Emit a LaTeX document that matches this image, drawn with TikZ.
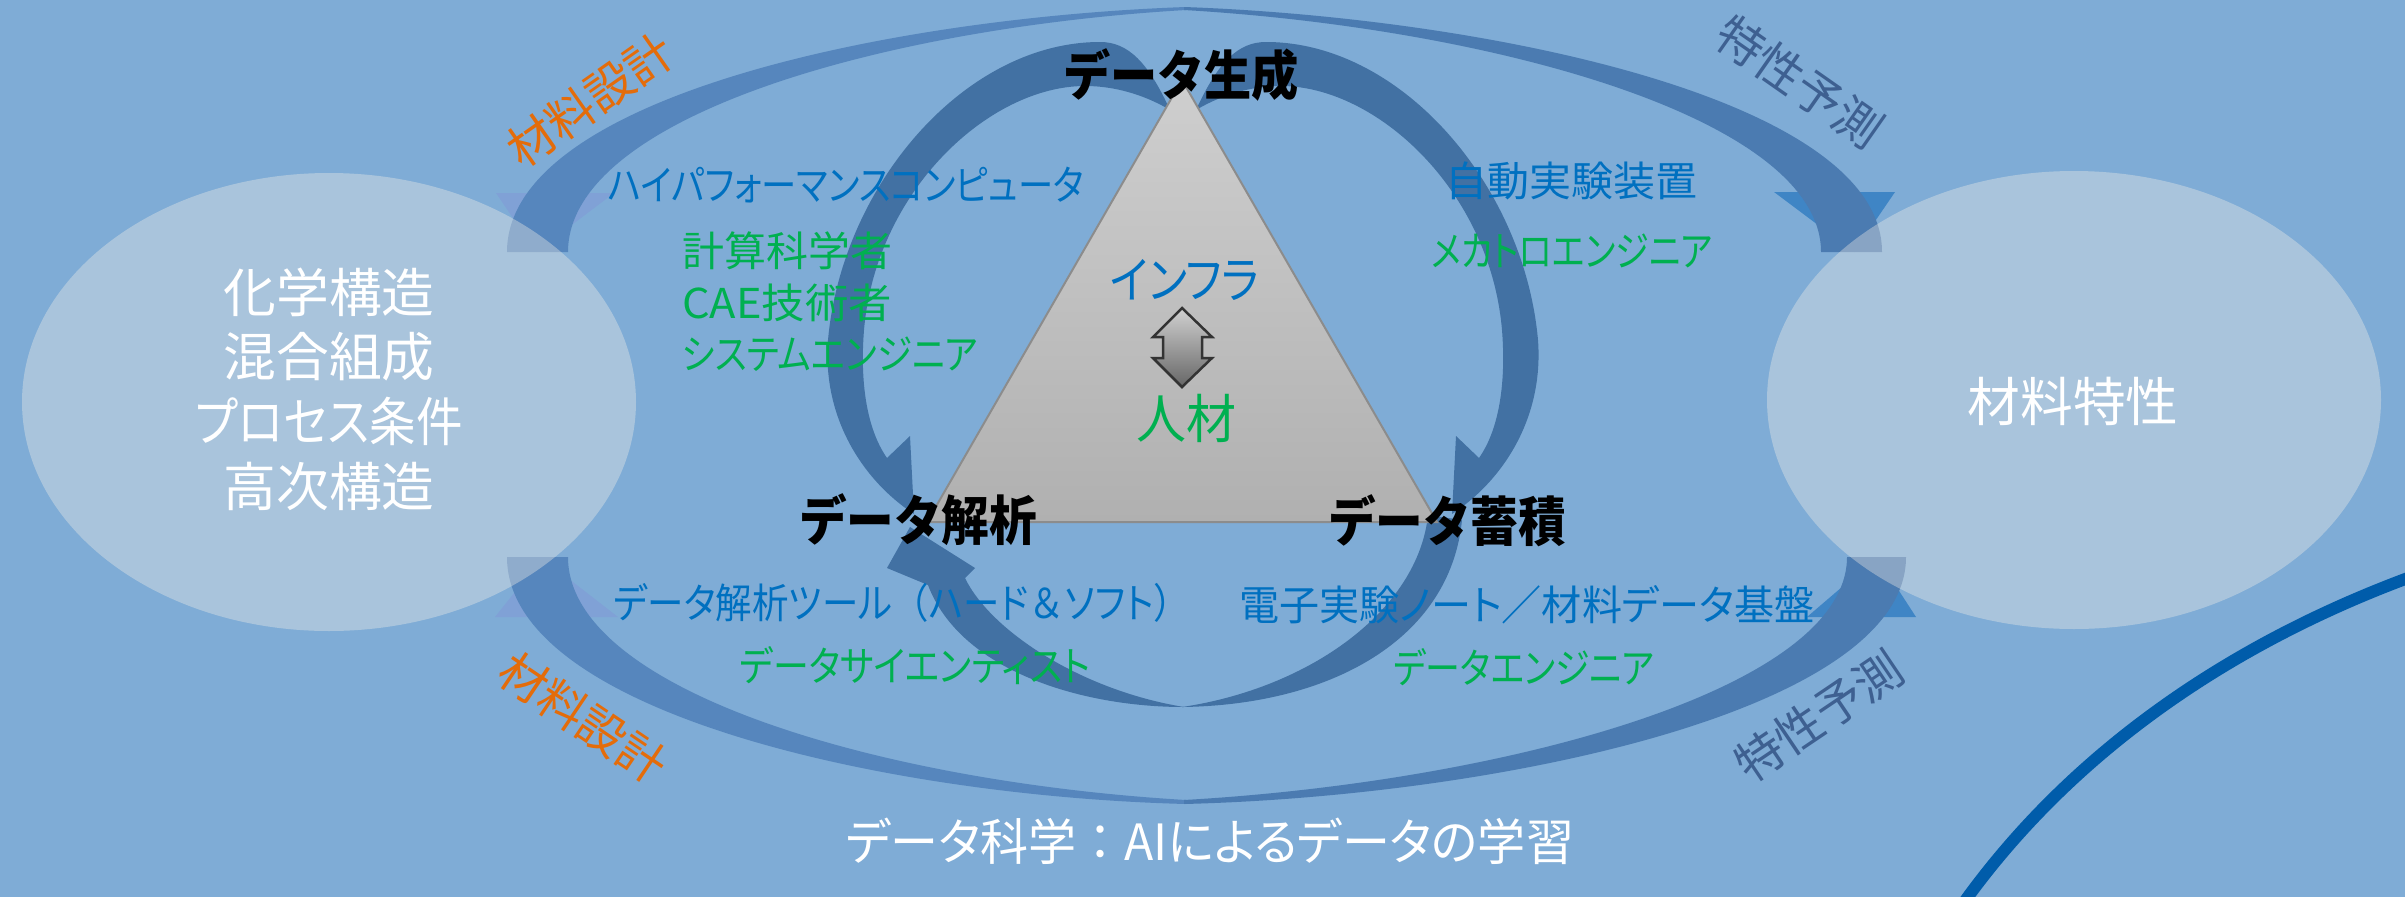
\documentclass[tikz,border=0pt]{standalone}
\usepackage{fontspec}
\setmainfont{Noto Sans CJK JP}[RawFeature={+palt}]
\newfontfamily\jpfull{Noto Sans CJK JP}
\usepackage{graphicx}
\usetikzlibrary{shapes.geometric}
\definecolor{bg}{RGB}{127,172,214}
\definecolor{ellc}{RGB}{250,243,232}
\definecolor{bandL}{RGB}{86,134,189}
\definecolor{bandR}{RGB}{75,123,177}
\definecolor{headR}{RGB}{63,133,197}
\definecolor{headL}{RGB}{128,161,214}
\definecolor{innerc}{RGB}{66,113,163}
\definecolor{txtblue}{RGB}{0,112,192}
\definecolor{txtgreen}{RGB}{0,176,80}
\definecolor{txtorange}{RGB}{228,108,10}
\definecolor{txtslate}{RGB}{62,96,145}
\definecolor{curvec}{RGB}{0,92,170}
\newcommand\fitw[2]{\resizebox{#1}{\height}{#2}}
\begin{document}
\begin{tikzpicture}[x=0.1mm,y=-0.1mm,
  lbl/.style={inner sep=0pt, outer sep=0pt},
  bluet/.style={lbl, text=txtblue, font=\fontsize{11.7}{14}\selectfont},
  greent/.style={lbl, text=txtgreen, font=\fontsize{11.7}{14}\selectfont},
  boldt/.style={lbl, text=black, font=\fontsize{15.2}{18}\selectfont\jpfull\bfseries},
  whitet/.style={lbl, text=white, font=\fontsize{15}{18}\selectfont},
  rott/.style={lbl, font=\fontsize{13.5}{16}\selectfont},
  ellbox/.style={ellipse, draw=none, fill=ellc, fill opacity=0.35, text opacity=1,
     minimum width=61.4mm, minimum height=45.8mm, inner sep=0pt}
]
\fill[bg] (0,0) rectangle (2405,897);
\useasboundingbox (0,0) rectangle (2405,897);

% outer arrow heads
\fill[headL] (496,193) -- (614,193) -- (536,252) -- cycle;
\fill[headR] (1774,192) -- (1895,192) -- (1854,252) -- cycle;
\fill[headL] (495,617) -- (618,617) -- (542,558) -- cycle;
\fill[headR] (1807,617) -- (1916,617) -- (1877,557) -- cycle;

% outer arrow bands
\fill[bandL] (1186,7) .. controls (880,18) and (507,100) .. (507,252)
  -- (568,252) .. controls (568,118) and (880,28) .. (1186,10) -- cycle;
\fill[bandR] (1184,7) .. controls (1490,18) and (1882,100) .. (1882,252)
  -- (1821,252) .. controls (1821,118) and (1490,28) .. (1184,10) -- cycle;
\fill[bandL] (1186,804) .. controls (880,796) and (507,710) .. (507,557)
  -- (568,557) .. controls (568,690) and (880,782) .. (1186,800) -- cycle;
\fill[bandR] (1184,804) .. controls (1500,796) and (1906,710) .. (1906,557)
  -- (1847,557) .. controls (1847,690) and (1500,782) .. (1184,800) -- cycle;

% ellipses
\node[ellbox] (inE) at (329,402) {};
\node[ellbox] (outE) at (2074,400) {};
\node[whitet, align=center] (inT) at (329,389)
  {\fitw{21.1mm}{化学構造}\\[0.4pt]\fitw{21.1mm}{混合組成}\\[0.4pt]\fitw{26.7mm}{プロセス条件}\\[0.4pt]\fitw{21.1mm}{高次構造}};
\node[whitet] (outT) at (2073,401) {\fitw{21.1mm}{材料特性}};

% lower-right curve
\coordinate (cs) at (1955,915);
\coordinate (ce) at (2430,570);
\draw[curvec, line width=1.2mm] (cs) .. controls (2062,760) and (2225,642) .. (ce);

% inner loop
\newcommand\leftarch{%
  (1170,110) .. controls (1148,62) and (1128,42) .. (1100,42)
   .. controls (965,42) and (842,185) .. (828,340)
   .. controls (822,420) and (865,482) .. (914,514)
   -- (910,436) -- (887,458)
   .. controls (866,428) and (860,380) .. (864,330)
   .. controls (876,190) and (990,86) .. (1085,86)
   .. controls (1120,86) and (1150,98) .. (1170,110) -- cycle}
\fill[innerc] \leftarch;
\begin{scope}[shift={(2366,0)}, xscale=-1]
\fill[innerc] \leftarch;
\end{scope}
\fill[innerc] (1184,707) .. controls (1080,707) and (960,670) .. (928,585)
  -- (887,568) -- (910,527) -- (975,568) -- (965,578)
  .. controls (990,630) and (1080,690) .. (1184,707) -- cycle;
\fill[innerc] (1182,707) .. controls (1330,705) and (1450,640) .. (1462,520)
  -- (1428,515) .. controls (1418,610) and (1310,688) .. (1182,707) -- cycle;

% triangle
\coordinate (apex) at (1182,80);
\coordinate (bl) at (927,522);
\coordinate (br) at (1437,522);
\draw[draw=black!45, line width=0.2mm, top color=black!19, bottom color=black!31] (apex) -- (bl) -- (br) -- cycle;

% double arrow
\draw[draw=black!80, line width=0.25mm, top color=black!18, bottom color=black!60]
  (1182,308) -- (1153,337) -- (1163,337) -- (1163,358) -- (1153,358) -- (1182,387)
  -- (1212,358) -- (1202,358) -- (1202,337) -- (1212,337) -- cycle;

% labels in triangle
\node[boldt] (gen) at (1181,75) {\fitw{23.6mm}{データ生成}};
\node[boldt] (ana) at (918,520) {\fitw{23.8mm}{データ解析}};
\node[boldt] (acc) at (1447,521) {\fitw{23.8mm}{データ蓄積}};
\node[lbl, text=txtblue, font=\fontsize{14.2}{17}\selectfont] (infra) at (1185,280) {\fitw{14.9mm}{インフラ}};
\node[lbl, text=txtgreen, font=\fontsize{15}{18}\selectfont] (jinzai) at (1186,418) {\fitw{10mm}{人材}};

% side labels
\node[bluet] (hpc) at (846,185) {\fitw{47.6mm}{ハイパフォーマンスコンピュータ}};
\node[greent, anchor=west] (g1) at (682,251) {\fitw{21mm}{計算科学者}};
\node[greent, anchor=west] (g2) at (682,303) {\fitw{21mm}{CAE技術者}};
\node[greent, anchor=west] (g3) at (682,354) {\fitw{29.6mm}{システムエンジニア}};
\node[bluet] (auto) at (1571,181) {\fitw{25.2mm}{自動実験装置}};
\node[greent] (mech) at (1572,251) {\fitw{28.1mm}{メカトロエンジニア}};
\node[bluet] (tool) at (902,603) {\fitw{57.6mm}{データ解析ツール{\jpfull（}ハード{\jpfull ＆}ソフト{\jpfull ）}}};
\node[greent] (sci) at (915,666) {\fitw{35mm}{データサイエンティスト}};
\node[bluet] (note) at (1527,605) {\fitw{57.5mm}{電子実験ノート{\jpfull ／}材料データ基盤}};
\node[greent] (eng) at (1524,667) {\fitw{26.1mm}{データエンジニア}};
\node[lbl, text=white, font=\fontsize{14.2}{17}\selectfont] (title) at (1210,841) {\fitw{72.8mm}{データ科学{\jpfull ：}AIによるデータの学習}};

% rotated labels
\node[rott, text=txtorange, rotate=35] (d1) at (590,100) {\fitw{19mm}{材料設計}};
\node[rott, text=txtorange, rotate=-34] (d2) at (583,718) {\fitw{19mm}{材料設計}};
\node[rott, text=txtslate, rotate=-35] (p1) at (1800,82) {\fitw{19mm}{特性予測}};
\node[rott, text=txtslate, rotate=34] (p2) at (1819,716) {\fitw{19mm}{特性予測}};
\end{tikzpicture}
\end{document}
